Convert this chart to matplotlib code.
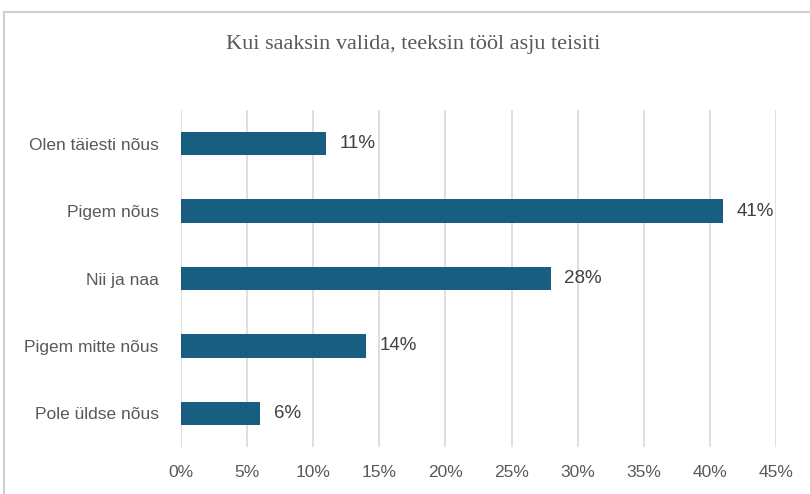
import matplotlib
matplotlib.use('Agg')
import matplotlib.pyplot as plt
from matplotlib.patches import Rectangle

categories = ['Olen täiesti nõus', 'Pigem nõus', 'Nii ja naa', 'Pigem mitte nõus', 'Pole üldse nõus']
shares = [0.11, 0.41, 0.28, 0.14, 0.06]
x_ticks = [0, 0.05, 0.10, 0.15, 0.20, 0.25, 0.30, 0.35, 0.40, 0.45]
title = 'Kui saaksin valida, teeksin tööl asju teisiti'

bar_color = '#185E80'
text_color = '#595959'

fig = plt.figure(figsize=(8.1, 4.94), dpi=100)
ax = fig.add_axes([181 / 810, 1 - 447 / 494, 595 / 810, 337 / 494])

# outer chart border (runs off right/bottom like the screenshot)
fig.patches.append(Rectangle((4 / 810, -0.05), 1.2, 1 - 12 / 494 + 0.05,
                             transform=fig.transFigure, fill=False,
                             edgecolor='#D0D0D0', linewidth=1.5, clip_on=False))

ypos = list(range(len(categories)))
ax.barh(ypos, shares, height=0.35, color=bar_color, zorder=3)
for y, v in zip(ypos, shares):
    ax.text(v + 0.01, y, f'{round(v * 100)}%', va='center', ha='left',
            fontsize=13.5, color='#404040', family='Liberation Sans')

ax.set_xlim(0, 0.45)
ax.set_ylim(len(categories) - 0.5, -0.5)
ax.set_xticks(x_ticks)
ax.set_xticklabels([f'{round(t * 100)}%' for t in x_ticks])
ax.set_yticks(ypos)
ax.set_yticklabels(categories)
ax.tick_params(axis='both', length=0, labelsize=12.5, labelcolor=text_color)
ax.tick_params(axis='y', pad=16)
ax.tick_params(axis='x', pad=13)
for lab in ax.get_xticklabels() + ax.get_yticklabels():
    lab.set_family('Liberation Sans')

ax.grid(axis='x', color='#D9D9D9', linewidth=1.2, zorder=0)
for s in ax.spines.values():
    s.set_visible(False)

fig.text(413 / 810, 1 - 45 / 494, title, ha='center', va='center',
         fontsize=16, color=text_color, family='Liberation Serif')

fig.savefig('out.png', dpi=100)
